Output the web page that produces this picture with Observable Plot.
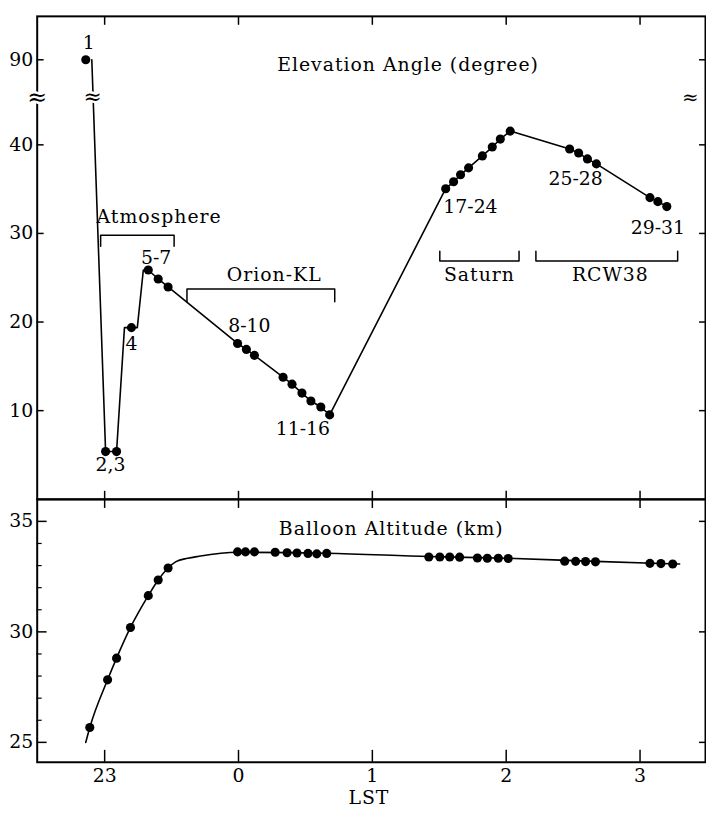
<!DOCTYPE html>
<html><head><meta charset="utf-8">
<script src="https://cdn.jsdelivr.net/npm/d3@7"></script>
<script src="https://cdn.jsdelivr.net/npm/@observablehq/plot@0.6"></script>
<style>
html,body{margin:0;padding:0;background:#fff;overflow:hidden;width:706px;height:817px}
#chart svg{display:block;overflow:visible}
</style></head><body><div id="chart"></div>
<script>
// ---------- x axis (LST, hours relative to 0h; 23h = -1) ----------
const xTickValues = [-1, 0, 1, 2, 3];
const xTickLabels = ["23", "0", "1", "2", "3"];
const xDomain = [-1.504, 3.489];

// ---------- Elevation angle (top panel) ----------
const obsHour = [-1.141, -0.993, -0.911, -0.800, -0.674, -0.600, -0.526, -0.007, 0.059, 0.119,
  0.333, 0.400, 0.474, 0.541, 0.615, 0.681, 1.548, 1.607, 1.659, 1.719, 1.822, 1.896, 1.956, 2.030,
  2.474, 2.541, 2.607, 2.674, 3.074, 3.133, 3.200];
const obsElev = [90, 5.38, 5.38, 19.37, 25.87, 24.86, 23.96, 17.58, 16.91, 16.24,
  13.77, 12.99, 11.98, 11.09, 10.41, 9.52, 35.05, 35.83, 36.62, 37.40, 38.75, 39.75, 40.65, 41.55,
  39.53, 39.08, 38.41, 37.85, 34.04, 33.59, 33.03];
// pointing path (vertices of the drawn line)
const pathHour = [-1.096, -0.993, -0.911, -0.852, -0.800, -0.756, -0.711, -0.674, -0.600, -0.526,
  -0.007, 0.059, 0.119, 0.333, 0.400, 0.474, 0.541, 0.615, 0.681, 1.548, 1.607, 1.659, 1.719, 1.822,
  1.896, 1.956, 2.030, 2.474, 2.541, 2.607, 2.674, 3.074, 3.133, 3.200];
const pathElev = [90, 5.38, 5.38, 19.37, 19.37, 19.37, 25.87, 25.87, 24.86, 23.96,
  17.58, 16.91, 16.24, 13.77, 12.99, 11.98, 11.09, 10.41, 9.52, 35.05, 35.83, 36.62, 37.40, 38.75,
  39.75, 40.65, 41.55, 39.53, 39.08, 38.41, 37.85, 34.04, 33.59, 33.03];
const elevTicks = [10, 20, 30, 40, 90];
// broken axis: values above 45 are drawn shifted down by this amount
const breakShift = 40.4;
const breakLevel = 45.35; // drawn level of the break marks
const lineBreakHour = -1.0896;

// point-number labels
const numLabels = ["1", "2,3", "4", "5-7", "8-10", "11-16", "17-24", "25-28", "29-31"];
const numLabelHour = [-1.119, -0.956, -0.800, -0.615, 0.081, 0.481, 1.733, 2.519, 3.133];
const numLabelElev = [91.9, 3.92, 17.47, 27.2, 19.6, 7.95, 33.0, 36.2, 30.6];

// target brackets
const targetNames = ["Atmosphere", "Orion-KL", "Saturn", "RCW38"];
const targetStart = [-1.030, -0.385, 1.504, 2.222];
const targetEnd = [-0.481, 0.719, 2.096, 3.281];
const targetBarElev = [29.79, 23.74, 26.88, 26.88];
const targetTipElev = [28.56, 22.28, 28.0, 28.0];
const targetLabelHour = [-0.593, 0.267, 1.80, 2.778];
const targetLabelElev = [31.9, 25.3, 25.3, 25.3];

// panel titles
const topTitle = "Elevation Angle (degree)";
const bottomTitle = "Balloon Altitude (km)";
const xTitle = "LST";

// ---------- Balloon altitude (bottom panel) ----------
const altHour = [-1.111, -0.978, -0.911, -0.807, -0.674, -0.600, -0.526, -0.007, 0.052, 0.119,
  0.274, 0.363, 0.437, 0.519, 0.585, 0.659, 1.422, 1.504, 1.578, 1.652, 1.785, 1.859, 1.941, 2.015,
  2.437, 2.519, 2.593, 2.667, 3.074, 3.156, 3.244];
const altKm = [25.67, 27.83, 28.81, 30.20, 31.64, 32.35, 32.89, 33.62, 33.62, 33.62,
  33.60, 33.58, 33.57, 33.55, 33.53, 33.55, 33.39, 33.39, 33.39, 33.38, 33.34, 33.33, 33.33, 33.32,
  33.20, 33.19, 33.18, 33.17, 33.10, 33.09, 33.07];
const altCurveHour = [-1.141, -1.111, -0.978, -0.911, -0.807, -0.674, -0.600, -0.526, -0.467, -0.380, -0.296, -0.007, 0.659, 1.422, 2.015, 2.667, 3.296];
const altCurveKm = [25.0, 25.67, 27.83, 28.81, 30.20, 31.64, 32.35, 32.89, 33.18, 33.33, 33.42, 33.60, 33.56, 33.41, 33.33, 33.19, 33.07];
const altMajorTicks = [25, 30, 35];
const altMinorTicks = [26, 27, 28, 29, 31, 32, 33, 34];

// ---------- build ----------
const brk = v => v > 45 ? v - breakShift : v;
const hourFmt = v => xTickLabels[xTickValues.indexOf(v)] ?? "";
const FONT = "'DejaVu Serif', 'Liberation Serif', serif";
const baseStyle = {fontFamily: FONT, fontSize: "20px", overflow: "visible", background: "transparent", color: "black"};
const T = {fontFamily: FONT, fontSize: 19};

const obs = obsHour.map((h, i) => ({h, e: obsElev[i]}));
const path = pathHour.map((h, i) => ({h, e: pathElev[i]}));
const nums = numLabels.map((t, i) => ({t, h: numLabelHour[i], e: numLabelElev[i]}));
const brackets = targetNames.flatMap((name, i) => [
  {name, h: targetStart[i], e: targetTipElev[i]},
  {name, h: targetStart[i], e: targetBarElev[i]},
  {name, h: targetEnd[i], e: targetBarElev[i]},
  {name, h: targetEnd[i], e: targetTipElev[i]}
]);
const targets = targetNames.map((t, i) => ({t, h: targetLabelHour[i], e: targetLabelElev[i]}));
const breakStyle = {fontFamily: FONT, fill: "black", stroke: "white", strokeWidth: 5, paintOrder: "stroke"};

const topPlot = Plot.plot({
  width: 712, height: 503, marginTop: 16, marginBottom: 0, marginLeft: 37, marginRight: 1,
  style: baseStyle,
  x: {domain: xDomain},
  y: {domain: [0, 54.5]},
  marks: [
    Plot.frame({stroke: "black", strokeWidth: 2}),
    Plot.axisY({anchor: "left", ticks: elevTicks.map(brk), tickSize: -7, fill: "none", strokeWidth: 1.5, label: null}),
    Plot.axisY({anchor: "left", ticks: elevTicks.map(brk), tickSize: 0, tickPadding: 4, ...T,
      tickFormat: v => String(Math.round(v > 45 ? v + breakShift : v)), label: null}),
    Plot.axisY({anchor: "right", ticks: elevTicks.map(brk), tickSize: -7, fill: "none", strokeWidth: 1.5, label: null}),
    Plot.axisX({anchor: "top", ticks: xTickValues, tickSize: -8, fill: "none", strokeWidth: 1.5, label: null}),
    Plot.axisX({anchor: "bottom", ticks: xTickValues, tickSize: -8, fill: "none", strokeWidth: 1.5, label: null}),
    // axis breaks
    Plot.text([breakLevel], {y: d => d, frameAnchor: "left", textAnchor: "middle", text: () => "\u2248", fontSize: 24, ...breakStyle}),
    Plot.text([breakLevel], {y: d => d, frameAnchor: "right", textAnchor: "end", dx: -7, text: () => "\u2248", fontSize: 20, ...breakStyle}),
    // pointing path and observations
    Plot.line(path, {x: "h", y: d => brk(d.e), stroke: "black", strokeWidth: 1.6}),
    Plot.text([lineBreakHour], {x: d => d, y: () => breakLevel, textAnchor: "middle", text: () => "\u2248", fontSize: 22, ...breakStyle}),
    Plot.dot(obs, {x: "h", y: d => brk(d.e), r: 4.6, fill: "black", stroke: "none"}),
    // brackets
    Plot.line(brackets, {x: "h", y: "e", z: "name", stroke: "black", strokeWidth: 1.5}),
    Plot.text(targets, {x: "h", y: "e", text: "t", ...T}),
    Plot.text(nums, {x: "h", y: d => brk(d.e), text: "t", ...T}),
    Plot.text([topTitle], {x: () => 1.267, frameAnchor: "top", dy: 42, text: d => d, ...T})
  ]
});

const alt = altHour.map((h, i) => ({h, a: altKm[i]}));
const altCurve = altCurveHour.map((h, i) => ({h, a: altCurveKm[i]}));

const bottomPlot = Plot.plot({
  width: 712, height: 314, marginTop: 0, marginBottom: 49, marginLeft: 37, marginRight: 1,
  style: baseStyle,
  x: {domain: xDomain},
  y: {domain: [24.1, 35.99]},
  marks: [
    Plot.frame({stroke: "black", strokeWidth: 2}),
    Plot.axisY({anchor: "left", ticks: altMajorTicks, tickSize: -10, fill: "none", strokeWidth: 1.5, label: null}),
    Plot.axisY({anchor: "left", ticks: altMinorTicks, tickSize: -5, fill: "none", strokeWidth: 1.2, label: null}),
    Plot.axisY({anchor: "left", ticks: altMajorTicks, tickSize: 0, tickPadding: 4, ...T, label: null}),
    Plot.axisY({anchor: "right", ticks: altMajorTicks, tickSize: -7, fill: "none", strokeWidth: 1.5, label: null}),
    Plot.axisX({anchor: "top", ticks: xTickValues, tickSize: -8, fill: "none", strokeWidth: 1.5, label: null}),
    Plot.axisX({anchor: "bottom", ticks: xTickValues, tickSize: -12, fill: "none", strokeWidth: 1.5, label: null}),
    Plot.axisX({anchor: "bottom", ticks: xTickValues, tickSize: 0, tickPadding: 6, ...T, tickFormat: hourFmt, label: null}),
    Plot.line(altCurve, {x: "h", y: "a", curve: "monotone-x", stroke: "black", strokeWidth: 1.6}),
    Plot.dot(alt, {x: "h", y: "a", r: 4.6, fill: "black", stroke: "none"}),
    Plot.text([bottomTitle], {x: () => 1.141, y: () => 34.64, text: d => d, ...T}),
    Plot.text([xTitle], {x: () => 0.974, frameAnchor: "bottom", dy: 42, text: d => d, ...T})
  ]
});

// letter spacing of the original's typewriter-like labels
const wideSet = new Set([...targetNames, topTitle, bottomTitle, xTitle]);
for (const svg of [topPlot, bottomPlot]) {
  svg.setAttribute("font-family", FONT);
  svg.querySelectorAll("text").forEach(t => {
    t.setAttribute("font-family", FONT);
    if (wideSet.has(t.textContent)) t.setAttribute("letter-spacing", "1");
  });
}

const root = document.getElementById("chart");
root.append(topPlot, bottomPlot);
</script></body></html>
